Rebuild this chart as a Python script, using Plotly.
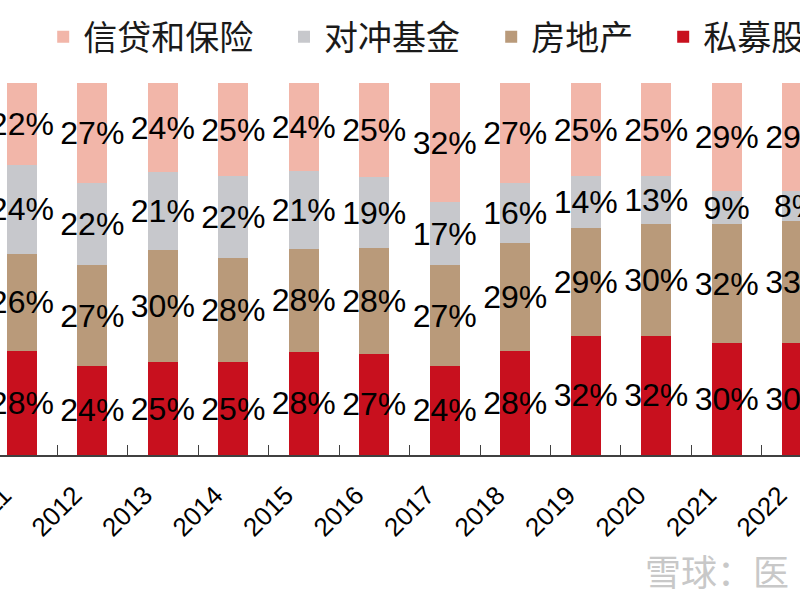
import plotly.graph_objects as go

# 年份与各类另类资产占比(%)
years = ["2011", "2012", "2013", "2014", "2015", "2016",
         "2017", "2018", "2019", "2020", "2021", "2022"]
private_equity = [28, 24, 25, 25, 28, 27, 24, 28, 32, 32, 30, 30]
real_estate = [26, 27, 30, 28, 28, 28, 27, 29, 29, 30, 32, 33]
hedge_funds = [24, 22, 21, 22, 21, 19, 17, 16, 14, 13, 9, 8]
credit_insurance = [22, 27, 24, 25, 24, 25, 32, 27, 25, 25, 29, 29]

series = [
    ("私募股权", private_equity, "#C8101E", "legend4"),
    ("房地产", real_estate, "#B99A7A", "legend3"),
    ("对冲基金", hedge_funds, "#C7C8CC", "legend2"),
    ("信贷和保险", credit_insurance, "#F2B6A9", "legend"),
]

fig = go.Figure()
for name, vals, color, lg in series:
    fig.add_trace(go.Bar(
        x=years, y=vals, name=name, legend=lg,
        text=[f"{v}%" for v in vals], texttemplate="%{text}",
        marker=dict(color=color, line=dict(width=0)),
        textposition="inside", textangle=0,
        insidetextanchor="middle", constraintext="none",
        textfont=dict(family="Liberation Sans, Arial", size=32, color="black"),
    ))

leg_font = dict(family="Noto Sans CJK SC", size=34, color="#1a1a1a")
def leg(x):
    return dict(x=x, xref="container", xanchor="left",
                y=0.938, yref="container", yanchor="middle",
                orientation="h", font=leg_font, bgcolor="rgba(0,0,0,0)")

fig.update_layout(
    width=800, height=600,
    barmode="stack", barnorm="percent", bargap=0.57,
    margin=dict(l=0, r=0, t=83, b=145, autoexpand=False),
    paper_bgcolor="white", plot_bgcolor="white",
    showlegend=True,
    legend=leg(0.054), legend2=leg(0.355), legend3=leg(0.614), legend4=leg(0.829),
    xaxis=dict(
        type="category", range=[-0.31, 11.04], automargin=False,
        showline=True, linecolor="#404040", linewidth=1.5,
        ticks="inside", tickson="boundaries", ticklen=10,
        tickcolor="#404040", tickwidth=1.2,
        tickangle=-45, ticklabelshift=-18, ticklabelstandoff=13,
        tickfont=dict(family="Liberation Sans, Arial", size=26, color="black"),
        showgrid=False,
    ),
    yaxis=dict(range=[0, 100], visible=False, showgrid=False, automargin=False),
    annotations=[dict(
        text="雪球：医", xref="paper", yref="paper",
        x=0.804, y=-0.31, xanchor="left", yanchor="middle",
        showarrow=False,
        font=dict(family="Noto Sans CJK SC", size=36, color="#C8C8C8"),
    )],
)

fig.write_html("out.html", config={"displayModeBar": False},
               post_script="document.body.style.margin='0px';")
